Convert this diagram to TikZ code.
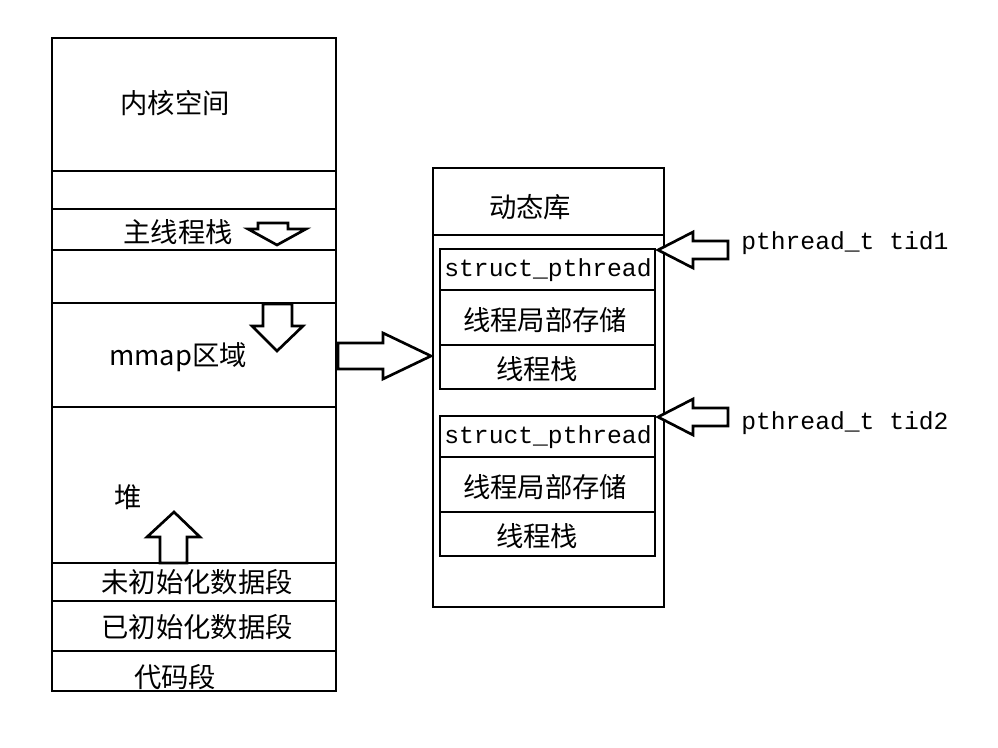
\documentclass[tikz,border=0pt]{standalone}
\usepackage{fontspec}
\setmainfont{Liberation Serif}
\newfontfamily\cjk{Noto Sans CJK SC}
\newfontfamily\mono{Liberation Mono}
\tikzset{
  seg/.style={draw=black, line width=2pt},
  lbl/.style={font=\cjk\fontsize{20.5}{22}\selectfont, inner sep=0pt},
  code/.style={font=\mono\fontsize{18.5}{20}\selectfont, inner sep=0pt},
  hollow/.style={draw=black, line width=2pt, fill=white, line join=miter}
}
\begin{document}
\begin{tikzpicture}[x=0.75pt,y=-0.75pt]
    \useasboundingbox (0,0) rectangle (998,748);
    % left memory column
    \draw[seg] (52,38) rectangle (336,691);
    \foreach \yy in {171,209,250,303,407,563,601,651}
        \draw[seg] (52,\yy) -- (336,\yy);
    \node (kern) [lbl] at (175,103) {内核空间};
    \node (mstack) [lbl] at (178,232) {主线程栈};
    \node (mmap) [lbl] at (178,357) {mmap区域};
    \node (heap) [lbl] at (128,497) {堆};
    \node (bss) [lbl] at (197,582) {未初始化数据段};
    \node (data) [lbl] at (197,627) {已初始化数据段};
    \node (text) [lbl] at (175,677) {代码段};
    % growth arrows
    \draw[hollow] (258,223) -- (288,223) -- (288,229) -- (306,229) -- (277,245) -- (248,229) -- (258,229) -- cycle;
    \draw[hollow] (263,304) -- (292,304) -- (292,326) -- (303,326) -- (277,351) -- (252,326) -- (263,326) -- cycle;
    \draw[hollow] (160,563) -- (187,563) -- (187,537) -- (200,537) -- (174,512) -- (147,537) -- (160,537) -- cycle;
    % mmap to library
    \draw[hollow] (338,343) -- (383,343) -- (383,333) -- (431,356) -- (383,379) -- (383,369) -- (338,369) -- cycle;
    % shared library box
    \draw[seg] (433,168) rectangle (664,607);
    \draw[seg] (433,235) -- (664,235);
    \node (lib) [lbl] at (530,207) {动态库};
    \foreach \top/\nm in {249/one,416/two} {
        \draw[seg] (440,\top) rectangle (655,\top+140);
        \draw[seg] (440,\top+41) -- (655,\top+41);
        \draw[seg] (440,\top+96) -- (655,\top+96);
        \node (sp\nm) [code] at (548,\top+21) {struct\_pthread};
        \node (tls\nm) [lbl] at (545,\top+71) {线程局部存储};
        \node (ts\nm) [lbl] at (537,\top+120) {线程栈};
    }
    % thread handles
    \foreach \yy/\ty/\nm in {250/243/1,417/423/2} {
        \draw[hollow] (728,\yy-9) -- (693,\yy-9) -- (693,\yy-18) -- (658,\yy) -- (693,\yy+18) -- (693,\yy+9) -- (728,\yy+9) -- cycle;
        \node (tid\nm) [code, anchor=west] at (741,\ty) {pthread\_t tid\nm};
    }
\end{tikzpicture}
\end{document}
